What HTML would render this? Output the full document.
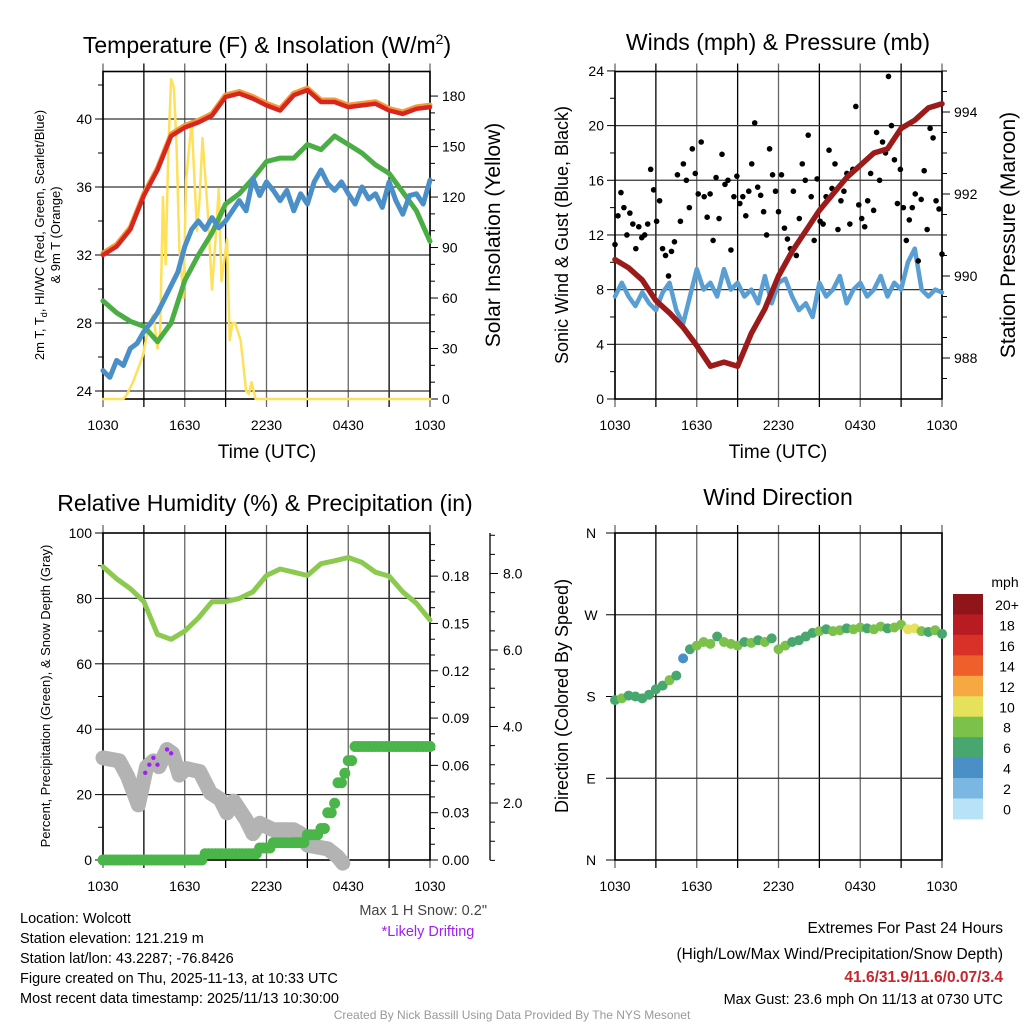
<!DOCTYPE html>
<html><head><meta charset="utf-8"><style>
html,body{margin:0;padding:0;background:#fff;}
svg{display:block;font-family:"Liberation Sans",sans-serif;}
</style></head><body>
<svg id="c" width="1024" height="1024" viewBox="0 0 1024 1024" xmlns="http://www.w3.org/2000/svg">
<g font-size="23" text-anchor="middle" fill="#000">
<text x="267" y="53">Temperature (F) &amp; Insolation (W/m<tspan dy="-9" font-size="14">2</tspan><tspan dy="9">)</tspan></text>
<text x="778" y="50">Winds (mph) &amp; Pressure (mb)</text>
<text x="265" y="511">Relative Humidity (%) &amp; Precipitation (in)</text>
<text x="778" y="505">Wind Direction</text>
</g>
<g font-size="19" text-anchor="middle">
<text x="267" y="458">Time (UTC)</text>
<text x="778" y="458">Time (UTC)</text>
</g>
<text transform="translate(44,235) rotate(-90)" font-size="13" text-anchor="middle">2m T, T<tspan dy="3" font-size="9">d</tspan><tspan dy="-3">, HI/WC (Red, Green, Scarlet/Blue)</tspan></text>
<text transform="translate(60,235) rotate(-90)" font-size="13" text-anchor="middle">&amp; 9m T (Orange)</text>
<text transform="translate(500,235) rotate(-90)" font-size="21" text-anchor="middle">Solar Insolation (Yellow)</text>
<text transform="translate(568,235) rotate(-90)" font-size="18" text-anchor="middle">Sonic Wind &amp; Gust (Blue, Black)</text>
<text transform="translate(1015,235) rotate(-90)" font-size="21" text-anchor="middle">Station Pressure (Maroon)</text>
<text transform="translate(50,696) rotate(-90)" font-size="13" text-anchor="middle">Percent, Precipitation (Green), &amp; Snow Depth (Gray)</text>
<text transform="translate(568,696) rotate(-90)" font-size="18" text-anchor="middle">Direction (Colored By Speed)</text>
<g font-size="14.5">
<text x="20" y="923">Location: Wolcott</text>
<text x="20" y="943">Station elevation: 121.219 m</text>
<text x="20" y="963">Station lat/lon: 43.2287; -76.8426</text>
<text x="20" y="983">Figure created on Thu, 2025-11-13, at 10:33 UTC</text>
<text x="20" y="1003">Most recent data timestamp: 2025/11/13 10:30:00</text>
</g>
<text x="487" y="915" font-size="14.5" fill="#444" text-anchor="end">Max 1 H Snow: 0.2"</text>
<text x="428" y="936" font-size="14.5" fill="#a020f0" text-anchor="middle">*Likely Drifting</text>
<g font-size="15.5" text-anchor="end">
<text x="1003" y="933">Extremes For Past 24 Hours</text>
<text x="1003" y="959">(High/Low/Max Wind/Precipitation/Snow Depth)</text>
<text x="1003" y="982" fill="#c8262c" font-weight="bold">41.6/31.9/11.6/0.07/3.4</text>
<text x="1003" y="1004" font-size="14.5">Max Gust: 23.6 mph On 11/13 at 0730 UTC</text>
</g>
<text x="512" y="1019" font-size="12" fill="#999" text-anchor="middle">Created By Nick Bassill Using Data Provided By The NYS Mesonet</text>
</svg>
<script>
// ---------- data ----------
const hourly = [0,1,2,3,4,5,6,7,8,9,10,11,12,13,14,15,16,17,18,19,20,21,22,23,24];
const tempRed = [32,32.5,33.5,35.5,37,39,39.5,39.8,40.2,41.3,41.5,41.2,40.8,40.5,41.4,41.7,41,41,40.7,40.8,40.9,40.5,40.3,40.6,40.7];
const tempGreen = [29.3,28.6,28.1,27.8,26.9,28,30.5,32,33.3,35,35.6,36.5,37.5,37.7,37.7,38.5,38.2,39,38.5,38,37.3,36.8,35.7,34.6,32.8];
const tempBlue = [25.2,24.8,25.8,25.5,26.5,26.8,27.5,28,28.6,29.4,30.2,31,32.5,33.5,34,33.5,34.2,33.6,34,34.6,35.2,34.6,36.5,35.5,36.3,35.8,35.2,35.8,34.6,35.6,35,36.3,37,36.2,35.8,36.3,35.6,35,36,35.3,35.6,34.8,36.3,35.2,34.4,35.5,35.6,35,36.4];
const solarTimes = [0,1.5,1.7,2.2,2.9,3.4,3.7,4.0,4.2,4.4,4.6,4.8,5.0,5.2,5.4,5.6,5.9,6.1,6.5,6.9,7.1,7.3,7.7,8.0,8.3,8.5,8.7,9.1,9.3,9.5,9.7,10.1,10.5,10.7,10.9,11.2,24];
const solarVals = [0,0,2,10,25,45,50,30,40,120,80,150,190,185,150,90,60,130,165,100,120,155,110,65,100,125,70,95,35,45,45,35,5,3,10,0,0];
const windVals = [7.5,8.5,7.5,6.8,7.8,7,6.5,7.8,8.5,6.5,5.5,7.5,9.5,8,8.5,7.5,9.5,8,8.5,7.5,8,7,9,7,8.5,8.8,7.5,6.5,7,6,8.5,7.5,8,9,7,8,8.5,7.5,8,9,7.5,8.5,8,10,11,8,7.5,8,7.8];
const gustVals = [11.3,13.4,15.1,14,12,13.6,12.8,11,12.6,11.8,12,12.8,16.8,15.3,13,14.5,11,10.5,9,10.8,11.5,16.4,13,17.2,16,14,18.3,16.5,15,18.8,14.8,13.3,15,11.6,16.2,13.2,17.9,15.7,16,10.9,14.8,16.3,14.3,14.8,13.4,15.2,17.2,20.2,15.5,14.9,13.7,12,18.3,16.4,15.2,13.7,16.4,12.5,11.7,11,15.2,10.5,13.2,17.2,16,19.3,14.8,11.6,16.1,13,12.8,14.8,18.2,15.4,17.2,12.4,14.5,15.2,16.5,12.8,16.8,21.4,14.2,13.2,12.6,14.5,16.5,13.8,19.5,16,18.8,18,23.6,20,17.5,14.3,16.8,14,11.6,13.1,14,15,10.1,14.6,16.7,12.4,19.8,19.1,14.5,13.9,10.6];
const pressureVals = [990.4,990.2,989.9,989.4,989.1,988.75,988.3,987.8,987.9,987.8,988.6,989.2,990,990.6,991.1,991.6,992,992.4,992.7,993,993.1,993.6,993.8,994.1,994.2];
const rhVals = [89.7,86,83,79,69,67.5,70,74,79,79,80,82,87,89,88,87,90.6,91.5,92.5,91,88,86.8,82,78.5,73.4];
const precipTimes = [0,7.3,11.5,12.5,14.8,16,16.5,17,17.2,17.6,18,18.4,24];
const precipVals = [0,0.004,0.0076,0.011,0.016,0.02,0.03,0.036,0.049,0.055,0.063,0.072,0.072];
const snowTimes = [0,1.2,1.8,2.6,3.2,3.7,4.1,4.7,5.1,5.6,6.1,7.1,7.9,8.6,9.1,9.6,10.5,11,11.5,12.5,14,14.5,15,16.5,17.2,17.6];
const snowVals = [3.18,3.1,2.7,1.95,2.95,3.1,2.95,3.4,3.3,2.73,2.9,2.82,2.26,2.1,1.74,2.05,1.56,1.2,1.47,1.3,1.3,1.2,0.9,0.8,0.6,0.43];
const driftTimes = [3.1,3.4,3.7,4.0,4.7,5.0];
const driftVals = [2.79,3.0,3.18,3.0,3.4,3.3];
const dirVals = [176,178,181,180,178,182,188,192,198,203,222,232,236,240,238,246,240,238,236,240,239,242,240,244,232,236,240,242,246,250,252,254,252,253,255,254,256,255,254,257,255,256,259,254,255,252,251,253,249];
const xTickLabels = ["1030","1630","2230","0430","1030"];
const cbLabels = ["20+","18","16","14","12","10","8","6","4","2","0"];
const cbColors = ["#8f1519","#b81c22","#d93128","#ee5f2b","#f6a943","#e6e15a","#7cc24a","#48a66f","#4a8fc5","#7ab8e3","#b8e2f6"];

// ---------- helpers ----------
const svg = document.getElementById('c');
const NS = 'http://www.w3.org/2000/svg';
function mk(tag, attrs, name){
  const el = document.createElementNS(NS, tag);
  for (const k in attrs) el.setAttribute(k, attrs[k]);
  
  
  svg.appendChild(el);
  return el;
}
function txt(x,y,s,size,anchor,name){
  const t = mk('text',{x:x,y:y,'font-size':size,'text-anchor':anchor},name);
  t.textContent = s;
  return t;
}
function poly(xs, ys, color, w, name){
  let d = '';
  for (let i=0;i<xs.length;i++) d += (i?'L':'M') + xs[i].toFixed(1) + ',' + ys[i].toFixed(1);
  return mk('path',{d:d,fill:'none',stroke:color,'stroke-width':w,'stroke-linejoin':'round','stroke-linecap':'round'},name);
}
const H = 13.625;
function halfHours(n){ const a=[]; for(let i=0;i<n;i++) a.push(i*24/(n-1)); return a; }

// panel frame & grid
function panel(x0, y0, x1, y1, hGrid, prefix){
  for (let i=0;i<=8;i++){
    const x = x0 + i*(x1-x0)/8;
    mk('line',{x1:x,y1:y0-8,x2:x,y2:y1+8,stroke:i%2?'#000':'#666','stroke-width':1.3},prefix+'-vgrid');
  }
  hGrid.forEach(y=>mk('line',{x1:x0,y1:y,x2:x1,y2:y,stroke:'#333','stroke-width':1.2},prefix+'-hgrid'));
  mk('rect',{x:x0,y:y0,width:x1-x0,height:y1-y0,fill:'none',stroke:'#000','stroke-width':1.6},prefix+'-frame');
  xTickLabels.forEach((s,i)=>txt(x0+i*(x1-x0)/4, y1+31, s, 14, 'middle', prefix+'-x-tick-label'));
}
function leftTicks(x, vals, yf, minors, fmt, prefix){
  vals.forEach(v=>{ const y=yf(v); mk('line',{x1:x-8,y1:y,x2:x,y2:y,stroke:'#000','stroke-width':1},prefix+'-tick'); txt(x-11,y+5,fmt(v),14,'end',prefix+'-tick-label'); });
  minors.forEach(v=>{ const y=yf(v); mk('line',{x1:x-5,y1:y,x2:x,y2:y,stroke:'#000','stroke-width':1},prefix+'-minor-tick'); });
}
function rightTicks(x, vals, yf, minors, fmt, prefix, dx){
  vals.forEach(v=>{ const y=yf(v); mk('line',{x1:x,y1:y,x2:x+8,y2:y,stroke:'#000','stroke-width':1},prefix+'-tick'); txt(x+(dx||12),y+5,fmt(v),14,'start',prefix+'-tick-label'); });
  minors.forEach(v=>{ const y=yf(v); mk('line',{x1:x,y1:y,x2:x+5,y2:y,stroke:'#000','stroke-width':1},prefix+'-minor-tick'); });
}

// ---------- panel 1: temperature ----------
const xT = h => 103 + h*H;
const yT = t => 391 - (t-24)*17;
const yS = s => 399 - s*1.683;
panel(103,71.5,430,399,[24,28,32,36,40].map(yT),'temp');
leftTicks(103,[24,28,32,36,40],yT,[26,30,34,38,42],v=>String(v),'temp-y');
rightTicks(430,[0,30,60,90,120,150,180],yS,[10,20,40,50,70,80,100,110,130,140,160,170],v=>String(v),'solar-y');
poly(solarTimes.map(xT), solarVals.map(yS), '#fde15a', 2.5, 'solar-insolation-line');
poly(hourly.map(xT), tempGreen.map(yT), '#4aae44', 5, 'dewpoint-line');
const bt = halfHours(tempBlue.length);
poly(bt.map(xT), tempBlue.map(yT), '#4a8fc8', 5, 'windchill-line');
poly(hourly.map(xT), tempRed.map(v=>yT(v+0.12)), '#f59a3a', 5, 'temp-9m-line');
poly(hourly.map(xT), tempRed.map(yT), '#d7261e', 4.5, 'temp-2m-line');

// ---------- panel 2: winds & pressure ----------
const xR = h => 615 + h*H;
const yW = v => 399 - v*13.67;
const yP = p => 194 - (p-992)*41;
panel(615,71.5,942,399,[4,8,12,16,20].map(yW),'wind');
leftTicks(615,[0,4,8,12,16,20,24],yW,[2,6,10,14,18,22],v=>String(v),'wind-y');
rightTicks(942,[988,990,992,994],yP,[987.5,988.5,989,989.5,990.5,991,991.5,992.5,993,993.5,994.5,995],v=>String(v),'pressure-y');
const wt = halfHours(windVals.length);
poly(wt.map(xR), windVals.map(yW), '#5a9fd4', 4.5, 'sonic-wind-line');
const gt = halfHours(gustVals.length);
gustVals.forEach((g,i)=>mk('circle',{cx:xR(gt[i]),cy:yW(g),r:2.8,fill:'#000'},'gust-point'));
poly(hourly.map(xR), pressureVals.map(yP), '#9b1b1b', 5.5, 'pressure-line');

// ---------- panel 3: RH & precip ----------
const xB = h => 103 + h*H;
const yRH = r => 860 - r*3.27;
const yPr = p => 860 - p*1577;
const ySn = s => 879.5 - s*38.25;
panel(103,533,430,860,[20,40,60,80].map(yRH),'rh');
leftTicks(103,[0,20,40,60,80,100],yRH,[10,30,50,70,90],v=>String(v),'rh-y');
rightTicks(430,[0,0.03,0.06,0.09,0.12,0.15,0.18],yPr,[0.01,0.02,0.04,0.05,0.07,0.08,0.1,0.11,0.13,0.14,0.16,0.17,0.19,0.2],v=>v.toFixed(2),'precip-y');
mk('line',{x1:490,y1:533,x2:490,y2:860,stroke:'#000','stroke-width':1.3},'snow-axis');
rightTicks(490,[2,4,6,8],ySn,[0.5,1,1.5,2.5,3,3.5,4.5,5,5.5,6.5,7,7.5,8.5,9],v=>v.toFixed(1),'snow-y',13);
poly(snowTimes.map(xB), snowVals.map(ySn), '#b3b3b3', 15, 'snow-depth-line');
driftTimes.forEach((t,i)=>mk('circle',{cx:xB(t),cy:ySn(driftVals[i]),r:2.2,fill:'#a020f0'},'drift-point'));
poly(hourly.map(xB), rhVals.map(yRH), '#8bc94f', 5, 'rh-line');
for (let q=0;q<=96;q++){
  const t = q/4;
  let v = 0;
  for (let k=0;k<precipTimes.length;k++) if (precipTimes[k] <= t) v = precipVals[k];
  mk('circle',{cx:xB(t),cy:yPr(v),r:5.5,fill:'#4ab548'},'precip-point');
}

// ---------- panel 4: wind direction ----------
const xD = h => 615 + h*H;
const yD = d => 860 - d*0.9083;
panel(615,533,942,860,[90,180,270].map(yD),'dir');
[['N',0],['E',90],['S',180],['W',270],['N',360]].forEach(a=>{
  const y=yD(a[1]);
  mk('line',{x1:606,y1:y,x2:615,y2:y,stroke:'#000','stroke-width':1},'dir-tick');
  txt(591,y+5,a[0],14,'middle','dir-tick-label');
});
const dt = halfHours(dirVals.length);
dirVals.forEach((d,i)=>{
  const idx = Math.min(10, Math.floor(windVals[i]/2));
  mk('circle',{cx:xD(dt[i]),cy:yD(d),r:5,fill:cbColors[10-idx]},'dir-point');
});
txt(1005,587,'mph',14,'middle','colorbar-title');
cbLabels.forEach((s,i)=>{
  mk('rect',{x:953,y:594+i*20.45,width:30,height:20.9,fill:cbColors[i]},'colorbar-box');
  txt(1007,594+i*20.45+16,s,14,'middle','colorbar-label');
});
</script>
</body></html>
